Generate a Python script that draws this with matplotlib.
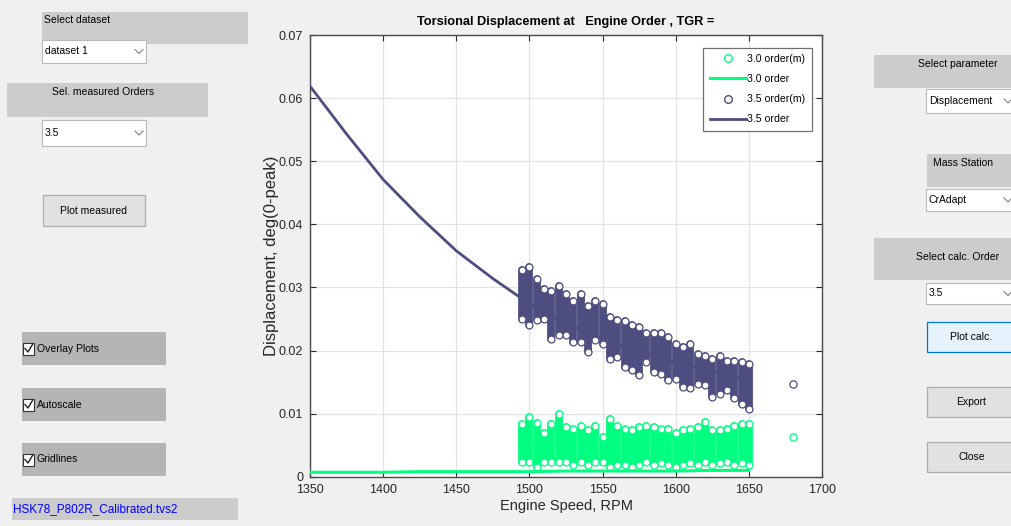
import matplotlib.pyplot as plt
from matplotlib.patches import Rectangle
from matplotlib.lines import Line2D

# calculated response curves
rpm_calc = [1350, 1375, 1400, 1425, 1450, 1475, 1500,
            1525, 1550, 1575, 1600, 1625, 1650]
disp_35_calc = [0.0619, 0.0543, 0.0471, 0.0412, 0.0358, 0.0314, 0.0274,
                0.0243, 0.0218, 0.0198, 0.0181, 0.0166, 0.0153]
disp_30_calc = [0.0007, 0.0007, 0.0007, 0.0008, 0.0008, 0.0008, 0.0008,
                0.0009, 0.0009, 0.0009, 0.0009, 0.0010, 0.0010]

# measured clusters: one column of circles per speed step (low / high value)
rpm_meas = [1495, 1500, 1505, 1510, 1515, 1520, 1525, 1530, 1535, 1540, 1545,
            1550, 1555, 1560, 1565, 1570, 1575, 1580, 1585, 1590, 1595, 1600,
            1605, 1610, 1615, 1620, 1625, 1630, 1635, 1640, 1645, 1650]
meas_35_lo = [0.0250, 0.0240, 0.0248, 0.0250, 0.0219, 0.0224, 0.0224, 0.0213,
              0.0213, 0.0197, 0.0216, 0.0210, 0.0187, 0.0189, 0.0174, 0.0169,
              0.0161, 0.0182, 0.0166, 0.0163, 0.0153, 0.0155, 0.0142, 0.0140,
              0.0147, 0.0145, 0.0126, 0.0131, 0.0137, 0.0124, 0.0116, 0.0108]
meas_35_hi = [0.0327, 0.0333, 0.0313, 0.0298, 0.0295, 0.0302, 0.0290, 0.0279,
              0.0290, 0.0271, 0.0279, 0.0274, 0.0253, 0.0248, 0.0246, 0.0240,
              0.0237, 0.0227, 0.0227, 0.0227, 0.0221, 0.0211, 0.0205, 0.0211,
              0.0195, 0.0192, 0.0187, 0.0192, 0.0184, 0.0184, 0.0182, 0.0179]
meas_30_lo = [0.0024, 0.0023, 0.0016, 0.0024, 0.0023, 0.0024, 0.0023, 0.0019,
              0.0023, 0.0019, 0.0023, 0.0023, 0.0016, 0.0019, 0.0018, 0.0016,
              0.0019, 0.0024, 0.0019, 0.0021, 0.0019, 0.0016, 0.0019, 0.0021,
              0.0019, 0.0024, 0.0019, 0.0021, 0.0024, 0.0019, 0.0021, 0.0019]
meas_30_hi = [0.0084, 0.0095, 0.0085, 0.0069, 0.0084, 0.0100, 0.0079, 0.0076,
              0.0081, 0.0074, 0.0081, 0.0063, 0.0092, 0.0081, 0.0076, 0.0074,
              0.0079, 0.0081, 0.0079, 0.0076, 0.0076, 0.0069, 0.0074, 0.0076,
              0.0079, 0.0087, 0.0074, 0.0074, 0.0076, 0.0081, 0.0083, 0.0083]

# single points outside the sweep
rpm_extra = [1680]
extra_35 = [0.0147]
extra_30 = [0.0063]

x_ticks = [1350, 1400, 1450, 1500, 1550, 1600, 1650, 1700]
y_ticks = [0, 0.01, 0.02, 0.03, 0.04, 0.05, 0.06, 0.07]
legend_labels = ['3.0 order(m)', '3.0 order', '3.5 order(m)', '3.5 order']

W, H = 1012, 526
DARK = '#4d4d80'
GREEN = '#00ff80'
FONT = ['Liberation Sans', 'DejaVu Sans']
UI_SIZE = 7.5


def fx(x):
    return x / W


def fy(y):
    return 1 - y / H


def panel(fig, x0, y0, x1, y1, fc, ec='none', lw=1.0):
    """Draws a GUI rectangle given in screen pixels (origin top-left)."""
    fig.patches.append(Rectangle((fx(x0), fy(y1)), fx(x1 - x0),
                                 (y1 - y0) / H, transform=fig.transFigure,
                                 facecolor=fc, edgecolor=ec, linewidth=lw))


def label(fig, x, y, s, ha='left', size=UI_SIZE, color='black'):
    fig.text(fx(x), fy(y), s, ha=ha, va='center', fontsize=size, color=color)


def dropdown(fig, x0, y0, x1, y1, s, arrow_x):
    panel(fig, x0, y0, x1, y1, 'white', '#b9b9b9', 0.8)
    label(fig, x0 + 3, (y0 + y1) / 2, s)
    ym = (y0 + y1) / 2
    fig.lines.append(Line2D([fx(arrow_x - 4), fx(arrow_x), fx(arrow_x + 4)],
                            [fy(ym - 2), fy(ym + 2), fy(ym - 2)],
                            transform=fig.transFigure, color='#808080',
                            lw=0.8))


def checkbox(fig, y0, y1, s):
    panel(fig, 22, y0, 166, y1, '#b5b5b5')
    ym = (y0 + y1) / 2
    panel(fig, 23, ym - 6, 34, ym + 6, 'white', '#333333', 0.8)
    fig.lines.append(Line2D([fx(25), fx(28), fx(32.5)],
                            [fy(ym), fy(ym + 3.5), fy(ym - 4)],
                            transform=fig.transFigure, color='#222222',
                            lw=1.0))
    label(fig, 37, ym, s)


def button(fig, x0, y0, x1, y1, s, fc='#e1e1e1', ec='#adadad'):
    panel(fig, x0, y0, x1, y1, fc, ec, 0.9)
    label(fig, (x0 + x1) / 2, (y0 + y1) / 2, s, ha='center')


def draw_gui(fig):
    """Left and right control panels of the MATLAB window."""
    panel(fig, 42, 12, 248, 44, '#cccccc')
    label(fig, 44, 20, 'Select dataset')
    dropdown(fig, 42, 40, 146, 63, 'dataset 1', 139)
    panel(fig, 7, 83, 208, 117, '#cccccc')
    label(fig, 103, 92, 'Sel. measured Orders', ha='center')
    dropdown(fig, 42, 120, 146, 146, '3.5', 139)
    button(fig, 43, 195, 145, 226, 'Plot measured')
    checkbox(fig, 332, 365, 'Overlay Plots')
    checkbox(fig, 388, 421, 'Autoscale')
    checkbox(fig, 443, 476, 'Gridlines')
    panel(fig, 12, 498, 238, 520, '#cccccc')
    label(fig, 13, 509, 'HSK78_P802R_Calibrated.tvs2', size=8.5,
          color='#0000ff')

    panel(fig, 874, 55, 1014, 88, '#cccccc')
    label(fig, 958, 64, 'Select parameter', ha='center')
    dropdown(fig, 926, 89, 1016, 113, 'Displacement', 1008)
    panel(fig, 927, 154, 1014, 187, '#cccccc')
    label(fig, 963, 163, 'Mass Station', ha='center')
    dropdown(fig, 926, 189, 1016, 211, 'CrAdapt', 1008)
    panel(fig, 874, 238, 1014, 280, '#cccccc')
    label(fig, 958, 257, 'Select calc. Order', ha='center')
    dropdown(fig, 926, 283, 1016, 304, '3.5', 1008)
    button(fig, 927, 322, 1016, 352, 'Plot calc.', '#e5f1fb', '#0078d7')
    button(fig, 927, 387, 1016, 417, 'Export')
    button(fig, 927, 442, 1016, 472, 'Close')


def draw_measured(ax, lo, hi, color):
    """Each speed step holds a dense stack of hollow circles."""
    ax.vlines(rpm_meas, lo, hi, colors=color, linewidth=5.6,
              capstyle='round', zorder=3)
    ax.plot(rpm_meas, lo, 'o', mfc='white', mec=color, ms=5, mew=0.9,
            zorder=4)
    ax.plot(rpm_meas, hi, 'o', mfc='white', mec=color, ms=5, mew=0.9,
            zorder=4)


def plot_displacement():
    plt.rcParams['font.family'] = FONT
    fig = plt.figure(figsize=(W / 100, H / 100), dpi=100, facecolor='#f0f0f0')
    draw_gui(fig)

    ax = fig.add_axes([fx(310), fy(476.7), fx(822 - 310), (476.7 - 35) / H])
    ax.set_facecolor('white')

    draw_measured(ax, meas_35_lo, meas_35_hi, DARK)
    draw_measured(ax, meas_30_lo, meas_30_hi, GREEN)
    ax.plot(rpm_extra, extra_35, 'o', mfc='none', mec=DARK, ms=5.2, mew=0.9)
    ax.plot(rpm_extra, extra_30, 'o', mfc='none', mec=GREEN, ms=5.2, mew=0.9)
    ax.plot(rpm_calc, disp_30_calc, color=GREEN, lw=2.2, zorder=5)
    ax.plot(rpm_calc, disp_35_calc, color=DARK, lw=2.0, zorder=5)

    ax.set_xlim(1350, 1700)
    ax.set_ylim(0, 0.07)
    ax.set_xticks(x_ticks)
    ax.set_yticks(y_ticks)
    ax.set_yticklabels(['0' if v == 0 else f'{v:.2f}' for v in y_ticks])
    ax.grid(True, color='#e3e3e3', lw=0.9)
    ax.set_axisbelow(True)
    ax.tick_params(direction='in', top=True, right=True, length=4,
                   labelsize=9, colors='#262626', pad=5)
    for s in ax.spines.values():
        s.set_color('#4a4a4a')
        s.set_linewidth(1.0)

    ax.set_title('Torsional Displacement at   Engine Order , TGR =',
                 fontsize=9.2, fontweight='bold', pad=7)
    ax.set_xlabel('Engine Speed, RPM', fontsize=10.5, color='#262626')
    ax.set_ylabel('Displacement, deg(0-peak)', fontsize=12,
                  color='#262626')
    ax.xaxis.set_label_coords(0.5, -0.05)
    ax.yaxis.set_label_coords(-0.06, 0.5)

    handles = [
        Line2D([], [], ls='none', marker='o', mfc='none', mec=GREEN, ms=5.5),
        Line2D([], [], color=GREEN, lw=2.2),
        Line2D([], [], ls='none', marker='o', mfc='none', mec=DARK, ms=5.5),
        Line2D([], [], color=DARK, lw=2.0),
    ]
    leg = ax.legend(handles, legend_labels, loc='upper right',
                    bbox_to_anchor=(0.98, 0.971), borderaxespad=0,
                    fancybox=False, framealpha=1, edgecolor='#707070',
                    fontsize=7.6, handlelength=3.4, handletextpad=0.15,
                    labelspacing=0.95, borderpad=0.6)
    leg.get_frame().set_linewidth(0.9)

    fig.savefig('out.png', dpi=100, facecolor=fig.get_facecolor())


if __name__ == '__main__':
    plot_displacement()
